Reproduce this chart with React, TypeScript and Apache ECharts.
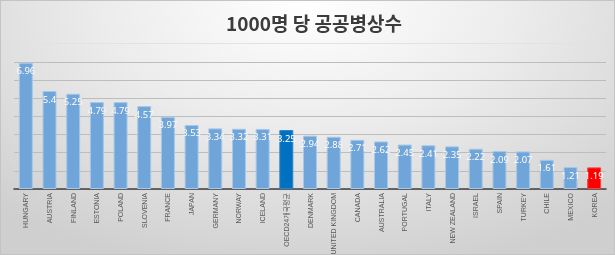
import React, { useEffect, useRef } from "react";
import * as echarts from "echarts";

const categories = [
  "HUNGARY", "AUSTRIA", "FINLAND", "ESTONIA", "POLAND", "SLOVENIA", "FRANCE", "JAPAN",
  "GERMANY", "NORWAY", "ICELAND", "OECD24개국평균", "DENMARK", "UNITED KINGDOM", "CANADA",
  "AUSTRALIA", "PORTUGAL", "ITALY", "NEW ZEALAND", "ISRAEL", "SPAIN", "TURKEY", "CHILE",
  "MEXICO", "KOREA",
];
const values = [
  6.96, 5.4, 5.25, 4.79, 4.79, 4.57, 3.97, 3.53, 3.34, 3.32, 3.31, 3.25, 2.94, 2.88, 2.71,
  2.62, 2.45, 2.41, 2.35, 2.22, 2.09, 2.07, 1.61, 1.21, 1.19,
];
const highlightColors: Record<string, string> = {
  "OECD24개국평균": "#0070c0",
  KOREA: "#ff0000",
};
const titleText = "1000명 당 공공병상수";

export default function App() {
  const ref = useRef<HTMLDivElement>(null);
  useEffect(() => {
    if (!ref.current) return;
    const chart = echarts.init(ref.current, null, { renderer: "svg" });
    chart.setOption({
      animation: false,
      backgroundColor: "transparent",
      title: {
        text: titleText,
        left: 308,
        textAlign: "center",
        top: 7,
        textStyle: {
          fontFamily: "Noto Sans CJK KR",
          fontWeight: "bold",
          fontSize: 19,
          color: "#3c3c3c",
        },
      },
      graphic: [
        {
          type: "line",
          shape: { x1: 13, y1: 42.5, x2: 602, y2: 42.5 },
          style: { stroke: "#e2e2e2", lineWidth: 1 },
        },
      ],
      grid: { left: 13, right: 8, top: 61, bottom: 65, containLabel: false, outerBoundsMode: "none" },
      xAxis: {
        type: "category",
        data: categories,
        axisLine: { lineStyle: { color: "#404040", width: 1.5 } },
        axisTick: { show: false },
        axisLabel: {
          rotate: 90,
          interval: 0,
          fontSize: 7,
          fontFamily: "Liberation Sans, Noto Sans CJK KR, sans-serif",
          color: "#595959",
          margin: 4,
        },
      },
      yAxis: {
        type: "value",
        min: 0,
        max: 7,
        interval: 1,
        axisLabel: { show: false },
        axisLine: { show: false },
        axisTick: { show: false },
        splitLine: { lineStyle: { color: "#bdbdbd", width: 1 } },
      },
      series: [
        {
          type: "bar",
          barWidth: "59%",
          data: values.map((v, i) => {
            const c = highlightColors[categories[i]];
            return {
              value: v,
              itemStyle: c
                ? { color: c, borderColor: c === "#ff0000" ? "#ff4040" : "#2a86cc", borderWidth: 1 }
                : { color: "#6fa5d8", borderColor: "#a6c8ea", borderWidth: 1 },
            };
          }),
          label: {
            show: true,
            position: "insideTop",
            distance: 3,
            color: "#ffffff",
            fontSize: 9.5,
            fontFamily: "Noto Sans, sans-serif",
            textShadowColor: "rgba(0,0,0,0.35)",
            textShadowBlur: 1.5,
          },
        },
      ],
    });
    return () => chart.dispose();
  }, []);
  return (
    <div
      style={{
        position: "fixed",
        left: 0,
        top: 0,
        width: 615,
        height: 255,
        boxSizing: "border-box",
        border: "1px solid #c4c4c4",
        background:
          "radial-gradient(ellipse 75% 110% at 50% 0%, #ffffff 0%, #ececec 45%, #cfcfcf 100%)",
      }}
    >
      <div ref={ref} style={{ width: 613, height: 253 }} />
    </div>
  );
}
